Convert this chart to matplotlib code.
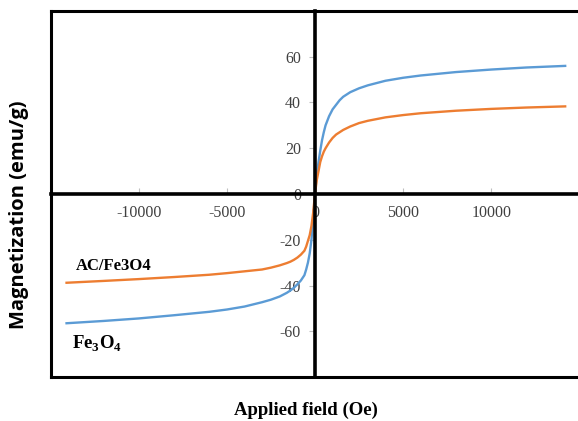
import numpy as np
import matplotlib
matplotlib.use("Agg")
import matplotlib.pyplot as plt

# applied field (Oe)
field_neg = [-14100, -12000, -10000, -8000, -6000, -5000, -4000, -3000, -2500, -2000,
             -1600, -1400, -1200, -1000, -800, -600, -500, -400, -300, -200, -100, 0]
field_pos = [0, 100, 200, 300, 400, 500, 600, 800, 1000, 1200, 1400, 1600, 2000, 2500,
             3000, 4000, 5000, 6000, 8000, 10000, 12000, 14200]

# magnetization (emu/g)
fe3o4_neg = [-56.5, -55.5, -54.4, -53.0, -51.5, -50.5, -49.2, -47.3, -46.2, -44.8,
             -43.2, -42.2, -41.0, -39.5, -37.8, -35.5, -33.0, -30.0, -26.0, -20.0, -11.0, 0]
fe3o4_pos = [0, 8, 14, 19, 23.5, 27, 30, 34, 37, 39, 41, 42.5, 44.5, 46.2,
             47.5, 49.5, 50.8, 51.8, 53.3, 54.4, 55.3, 56.0]
ac_neg = [-38.8, -38.0, -37.2, -36.3, -35.3, -34.6, -33.8, -33.0, -32.2, -31.2,
          -30.2, -29.6, -28.8, -27.8, -26.5, -24.8, -23.0, -20.5, -18.0, -14.0, -8.0, 0]
ac_pos = [0, 6, 10, 14, 16.5, 18.5, 20, 22.5, 24.5, 26, 27, 28, 29.5, 31,
          32, 33.5, 34.5, 35.3, 36.4, 37.2, 37.8, 38.3]

x_ticks = [-10000, -5000, 0, 5000, 10000]
y_ticks = [-60, -40, -20, 0, 20, 40, 60]

fig = plt.figure(figsize=(5.78, 4.21), dpi=100)
ax = fig.add_axes([0.0877, 0.1045, 0.9145, 0.8694])

H = field_neg + field_pos[1:]
M_fe = fe3o4_neg + fe3o4_pos[1:]
M_ac = ac_neg + ac_pos[1:]

ax.plot(H, M_fe, color='#5B9BD5', lw=1.7)
ax.plot(H, M_ac, color='#ED7D31', lw=1.7)

ax.set_xlim(-15000, 15000)
ax.set_ylim(-80, 80)

# axes crossing at the origin
for s in ['left', 'bottom']:
    ax.spines[s].set_position('zero')
    ax.spines[s].set_linewidth(2.6)
    ax.spines[s].set_color('black')
ax.spines['right'].set_visible(False)
ax.spines['top'].set_linewidth(2.2)

# outer frame (left and bottom)
ax.plot([0, 0], [0, 1], transform=ax.transAxes, color='black', lw=2.2, clip_on=False)
ax.plot([0, 1.1], [0, 0], transform=ax.transAxes, color='black', lw=2.2, clip_on=False)

ax.set_xticks(x_ticks)
ax.set_xticklabels([str(v) for v in x_ticks])
ax.set_yticks(y_ticks)
ax.set_yticklabels([str(v) for v in y_ticks])

for lab in ax.get_xticklabels() + ax.get_yticklabels():
    lab.set_fontfamily('Liberation Serif')
    lab.set_fontsize(11.5)
ax.tick_params(axis='x', direction='in', length=4, color='#BFBFBF', pad=8,
               labelcolor='#404040')
ax.tick_params(axis='y', direction='out', length=4, color='#BFBFBF', pad=6,
               labelcolor='#404040')

# curve labels
ax.text(-13600, -31.5, 'AC/Fe3O4', family='Liberation Serif', fontweight='bold',
        fontsize=12, ha='left', va='center')
ax.text(-13800, -65.5, r'Fe$_\mathregular{3}$O$_\mathregular{4}$', family='Liberation Serif',
        fontweight='bold', fontsize=13.5, ha='left', va='center')

fig.text(0.033, 0.49, 'Magnetization (emu/g)', family='Open Sans', fontweight='bold',
         fontsize=14.5, rotation=90, ha='center', va='center')
fig.text(0.53, 0.025, 'Applied field (Oe)', family='Liberation Serif', fontweight='bold',
         fontsize=13.5, ha='center', va='center')

fig.savefig('out.png', dpi=100)
